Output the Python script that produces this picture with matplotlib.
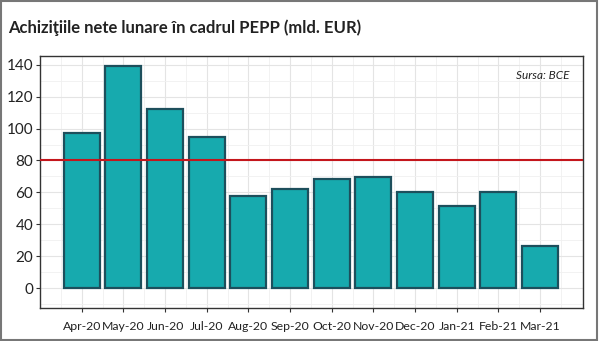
import matplotlib
matplotlib.use("Agg")
import matplotlib.pyplot as plt
from matplotlib.patches import Rectangle
from matplotlib.ticker import MultipleLocator

months = ["Apr-20", "May-20", "Jun-20", "Jul-20", "Aug-20", "Sep-20",
          "Oct-20", "Nov-20", "Dec-20", "Jan-21", "Feb-21", "Mar-21"]
purchases = [97, 139, 112, 95, 58, 62, 68.5, 69.5, 60, 51.5, 60.5, 26.5]
threshold = 80
y_ticks = [0, 20, 40, 60, 80, 100, 120, 140]

plt.rcParams['font.family'] = ['Lato', 'DejaVu Sans']

fig = plt.figure(figsize=(6.0, 3.41), dpi=100)
ax = fig.add_axes([40 / 600, 1 - 308 / 341, 543 / 600, 252 / 341])

x = list(range(len(months)))
ax.bar(x, purchases, width=0.86, color="#17aaae", edgecolor="#1d4f5c",
       linewidth=1.6, zorder=3)
ax.axhline(threshold, color="#c4161c", linewidth=1.5, zorder=4)

ax.set_xlim(-1.0, 12.03)
ax.set_ylim(-12.5, 145.5)
ax.set_xticks(x)
ax.set_xticklabels(months, fontsize=8.8, color="#222222")
ax.set_yticks(y_ticks)
ax.set_yticklabels([str(v) for v in y_ticks], fontsize=11, color="#222222")
ax.yaxis.set_minor_locator(MultipleLocator(10))
ax.set_xticks([v + 0.5 for v in range(-1, len(months))], minor=True)

ax.grid(which="major", color="#e4e4e4", linewidth=0.8, zorder=0)
ax.grid(which="minor", color="#f0f0f0", linewidth=0.6, zorder=0)
ax.tick_params(which="major", length=3, color="#333333", pad=2)
ax.tick_params(axis="x", which="major", pad=6)
ax.tick_params(which="minor", length=0)
for s in ax.spines.values():
    s.set_color("#333333")
    s.set_linewidth(1.0)

ax.text(0.975, 0.945, "Sursa: BCE", transform=ax.transAxes, ha="right",
        va="top", fontsize=8.5, style="italic", color="#222222")

fig.text(8 / 600, 1 - 28 / 341, "Achiziţiile nete lunare în cadrul PEPP (mld. EUR)",
         fontsize=12, fontweight="bold", color="#222222", va="center")

fig.patches.append(Rectangle((0.002, 0.004), 0.993, 0.992, transform=fig.transFigure,
                             fill=False, edgecolor="#777777", linewidth=1.5))

fig.savefig("out.png", dpi=100)
